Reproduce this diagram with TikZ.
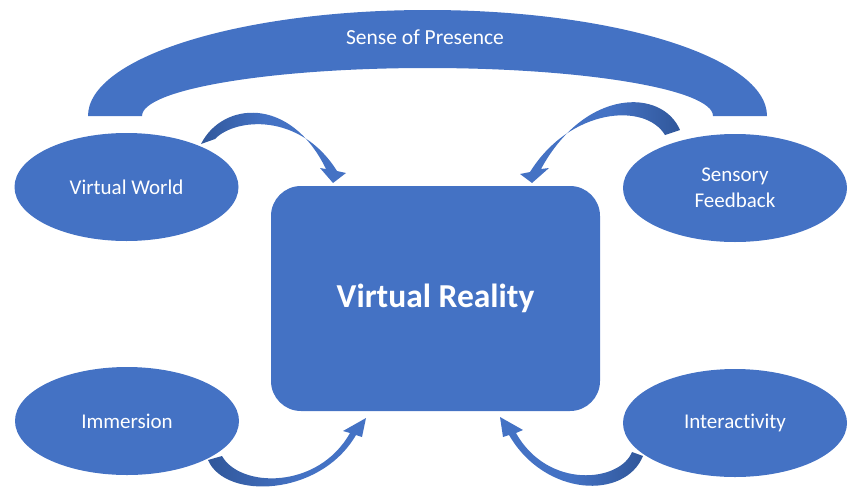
\documentclass[tikz,border=0pt]{standalone}
\usepackage{fontspec}
\setmainfont{Carlito}[Ligatures=NoCommon]
\usetikzlibrary{shapes.geometric}
\definecolor{vrblue}{HTML}{4472C4}
\definecolor{vrdark}{HTML}{2F5597}
\tikzset{
  oval/.style={ellipse, fill=vrblue, draw=none, minimum width=224pt, minimum height=108pt, inner sep=0pt, text=white, font=\fontsize{21}{26}\selectfont, align=center},
  core/.style={rectangle, rounded corners=30pt, fill=vrblue, minimum width=329pt, minimum height=225pt, text=white, font=\fontsize{33.5}{38}\selectfont\bfseries},
  band/.style={fill=vrblue, draw=none}
}
\begin{document}
\begin{tikzpicture}[x=1pt,y=-1pt]
\useasboundingbox (0,0) rectangle (850,490);
% arc band
\fill[band] (88,116) arc[start angle=180, end angle=0, x radius=339.5pt, y radius=106pt]
  -- (713,116) arc[start angle=0, end angle=180, x radius=285.5pt, y radius=48pt] -- cycle;
\node[text=white, font=\fontsize{21.5}{26}\selectfont] (sop) at (425,37) {Sense of Presence};
% curved arrows
\begin{scope}
\clip (201,144) .. controls (222,102) and (290,95) .. (326,169) -- (320,168) -- (333,183) -- (346,173) -- (337,171) .. controls (300,112) and (235,118) .. (215,139) -- cycle;
\shade[left color=vrdark, right color=vrblue] (195,100) rectangle (265,190);
\fill[vrblue] (265,100) rectangle (360,190);
\end{scope}
\begin{scope}
\clip (680,130) .. controls (662,88) and (585,88) .. (541,169) -- (549,168) -- (532,183) -- (520,174) -- (530,172) .. controls (570,108) and (645,102) .. (665,135) -- cycle;
\shade[left color=vrblue, right color=vrdark] (610,95) rectangle (685,190);
\fill[vrblue] (510,95) rectangle (610,190);
\end{scope}
\begin{scope}
\clip (208,460) .. controls (225,500) and (320,497) .. (356,435) -- (362,437) -- (366,418) -- (343,431) -- (350,433) .. controls (318,490) and (240,488) .. (222,456) -- cycle;
\shade[left color=vrdark, right color=vrblue] (200,410) rectangle (300,495);
\fill[vrblue] (300,410) rectangle (370,495);
\end{scope}
\begin{scope}
\clip (643,456) .. controls (625,500) and (545,497) .. (509,435) -- (503,437) -- (500,417) -- (523,430) -- (516,433) .. controls (548,490) and (620,482) .. (632,452) -- cycle;
\shade[left color=vrblue, right color=vrdark] (570,410) rectangle (648,495);
\fill[vrblue] (495,410) rectangle (570,495);
\end{scope}
% nodes
\node[core] (vr) at (435.5,298.5) {Virtual Reality};
\node[oval] (vw) at (126.5,187) {Virtual World};
\node[oval] (sf) at (735,188) {Sensory\\Feedback};
\node[oval] (im) at (127,421) {Immersion};
\node[oval] (ia) at (735,423) {Interactivity};
\end{tikzpicture}
\end{document}
